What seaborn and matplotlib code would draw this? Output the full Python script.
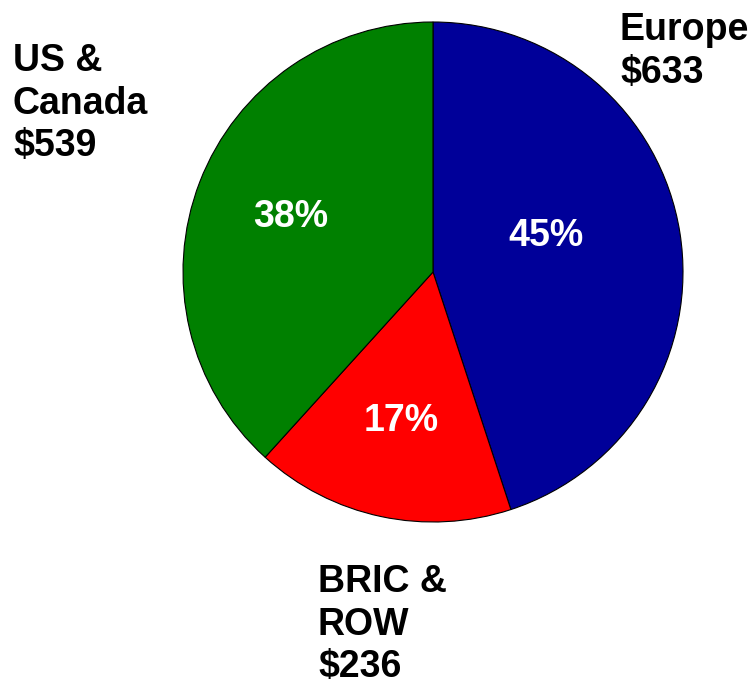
import matplotlib
matplotlib.use("Agg")
import matplotlib.pyplot as plt
import seaborn as sns

# ------------------ Data ------------------
regions = ["Europe", "BRIC &\nROW", "US &\nCanada"]
revenue = [633, 236, 539]  # $ values shown on the chart
slice_colors = ["#000099", "#FF0000", "#008000"]

# ------------------ Style ------------------
sns.set_theme(style="white")
plt.rcParams["font.family"] = ["Liberation Sans", "DejaVu Sans"]
palette = sns.color_palette(slice_colors)

fig = plt.figure(figsize=(7.51, 6.79), dpi=100)
ax = fig.add_axes([0, 0, 1, 1])

# ------------------ Pie ------------------
H = 679
wedges, texts, pcts = ax.pie(
    revenue,
    colors=palette,
    startangle=90,
    counterclock=False,
    center=(433, H - 272),
    radius=250,
    autopct="%1.0f%%",
    pctdistance=0.61,
    wedgeprops=dict(edgecolor="black", linewidth=0.8),
    textprops=dict(color="white", fontsize=27, fontweight="bold"),
    frame=True,
)
ax.set_xlim(0, 751)
ax.set_ylim(0, 679)
ax.set_axis_off()

# nudge the Europe percentage a bit like the original
pcts[0].set_position((546, H - 236))

# ------------------ Outer labels ------------------
label_pos = {"Europe": (620, 12), "BRIC &\nROW": (318, 564), "US &\nCanada": (13, 43)}
for name, val in zip(regions, revenue):
    x, y = label_pos[name]
    ax.text(x, H - y, f"{name}\n${val}", ha="left", va="top",
            fontsize=27, fontweight="bold", color="black", linespacing=1.24)

fig.savefig("out.png", dpi=100)
